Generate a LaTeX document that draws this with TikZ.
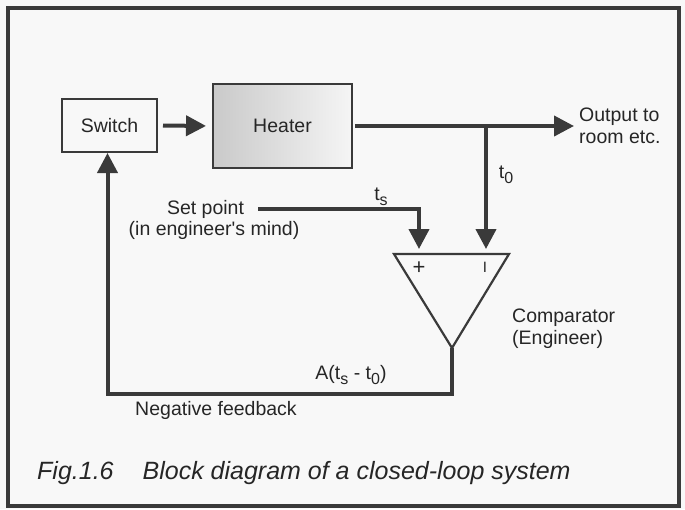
\documentclass[tikz,border=0pt]{standalone}
\usepackage{fontspec}
\setmainfont{Liberation Sans}
\usetikzlibrary{arrows.meta}
\definecolor{ink}{HTML}{3A3A3A}
\definecolor{textink}{HTML}{262626}
\definecolor{paper}{HTML}{F8F8F8}
\newcommand\lowsub[1]{\raisebox{-0.45ex}{\fontsize{16}{16}\selectfont #1}}
\begin{document}
\begin{tikzpicture}[x=1pt,y=-1pt,
  every node/.style={text=textink, font=\fontsize{19.5}{22}\selectfont, inner sep=0pt},
  box/.style={draw=ink, line width=2pt, inner sep=0pt},
  conn/.style={draw=ink, line width=4pt, -{Triangle[length=20pt,width=20pt]}},
  tri/.style={draw=ink, line width=2.2pt, line join=miter}]
\fill[paper] (0,0) rectangle (685,509);
\useasboundingbox (0,0) rectangle (685,509);
\draw[ink, line width=3.5pt] (8,8) rectangle (679,506);

% blocks
\node[box, minimum width=95pt, minimum height=53pt] (switch) at (109.5,125.5) {Switch};
\node[box, minimum width=139pt, minimum height=84pt, left color=black!21, right color=black!4] (heater) at (282.5,126) {Heater};

% output
\node[anchor=west, align=left] (out) at (579,126) {Output to\\room etc.};
\coordinate (tap) at (486,126);

% comparator
\coordinate (cL) at (394,254);
\coordinate (cR) at (509,254);
\coordinate (cA) at (452,348);
\coordinate (inP) at (419,254);
\coordinate (inM) at (486,254);
\draw[tri] (cL) -- (cR) -- (cA) -- cycle;
\node (plus) at (419,268) {\fontsize{22}{22}\selectfont +};
\node (minus) at (485,267) {\fontsize{15}{15}\selectfont I};
\node[anchor=west, align=left] (comp) at (512,329) {Comparator\\(Engineer)};

% set point
\node (setA) at (205.5,209) {Set point};
\node (setB) at (214,230) {(in engineer\textquotesingle s mind)};

% labels
\node (ts) at (381,197) {t\lowsub{s}};
\node (to) at (506,175) {t\lowsub{0}};
\node (err) at (351,375) {A(t\lowsub{s} - t\lowsub{0})};
\node (neg) at (216,410) {Negative feedback};
\coordinate (fb) at (452,394);

% connectors
\draw[conn, shorten <=5pt, shorten >=6pt] (switch.east) -- (heater.west);
\draw[conn, shorten <=2pt, shorten >=5pt] (heater.east) -- (out.west);
\draw[conn, shorten >=5pt] (tap) -- (inM);
\draw[conn, shorten <=14pt, shorten >=5pt] (setA.east) -| (inP);
\draw[conn] (cA) -- (fb) -| ([xshift=-2pt]switch.south);

% caption
\node[anchor=west, font=\itshape\fontsize{25}{25}\selectfont] (cap) at (37,473) {Fig.1.6\hspace{29pt}Block diagram of a closed-loop system};
\end{tikzpicture}
\end{document}
